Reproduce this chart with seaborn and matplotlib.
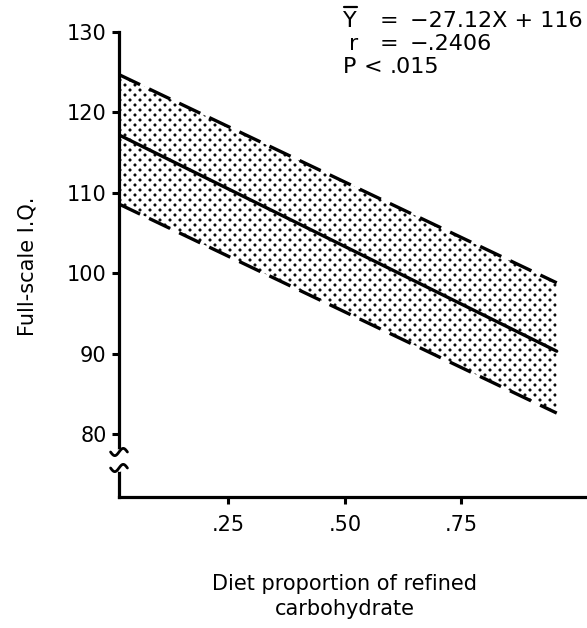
import matplotlib
matplotlib.use("Agg")
import matplotlib.pyplot as plt
import matplotlib.transforms as mtrans
from matplotlib import hatch as mhatch
from matplotlib.path import Path
import numpy as np
import pandas as pd
import seaborn as sns

# ---- data ----
x_ends = [0.015, 0.955]
fit_line = [117.2, 90.3]
upper_band = [124.7, 98.8]
lower_band = [108.6, 82.6]
x_ticks = [0.25, 0.50, 0.75]
x_tick_labels = [".25", ".50", ".75"]
y_ticks = [80, 90, 100, 110, 120, 130]


# stippled (diagonal dot lattice) hatch for the "." pattern
class DotLattice(mhatch.HatchPatternBase):
    NCOL, NROW, RAD = 10, 20, 0.011

    def __init__(self, hatch, density):
        self.active = hatch.count(".") > 0
        circ = Path.unit_circle()
        self.sv = circ.vertices * self.RAD
        self.sc = circ.codes
        pos = []
        if self.active:
            for r in range(self.NROW + 1):
                y = r / self.NROW
                if r % 2 == 0:
                    xs = [c / self.NCOL for c in range(self.NCOL + 1)]
                else:
                    xs = [(c + 0.5) / self.NCOL for c in range(self.NCOL)]
                pos += [(x, y) for x in xs]
        self.pos = pos
        self.num_vertices = len(pos) * len(self.sv)

    def set_vertices_and_codes(self, vertices, codes):
        vparts = [self.sv + np.array(p) for p in self.pos]
        cparts = [self.sc for _ in self.pos]
        np.concatenate(vparts, out=vertices)
        np.concatenate(cparts, out=codes)


mhatch._hatch_types = [t for t in mhatch._hatch_types
                       if t is not mhatch.SmallFilledCircles] + [DotLattice]

sns.set_theme(style="white")
plt.rcParams["font.family"] = ["DejaVu Sans"]
plt.rcParams["text.color"] = "black"
plt.rcParams["hatch.linewidth"] = 0.6

W, H = 587, 628
fig = plt.figure(figsize=(W / 100, H / 100), dpi=100)
ax = fig.add_axes([119 / W, 1 - 497 / H, (W - 119) / W, (497 - 32) / H])

df = pd.DataFrame({"x": x_ends, "fit": fit_line, "up": upper_band, "lo": lower_band})

ax.fill_between(df["x"], df["lo"], df["up"], facecolor="white", edgecolor="black",
                hatch=".", linewidth=0)
LW = 2.4
sns.lineplot(data=df, x="x", y="fit", ax=ax, color="black", linewidth=LW)
sns.lineplot(data=df, x="x", y="up", ax=ax, color="black", linewidth=LW)
ax.lines[-1].set_dashes([7.0, 3.0])
sns.lineplot(data=df, x="x", y="lo", ax=ax, color="black", linewidth=LW)
ax.lines[-1].set_dashes([7.0, 3.0])

ax.set_xlim(0.015, 1.02)
ax.set_ylim(130 - (497 - 32) / 8.04, 130)
ax.set_xticks(x_ticks)
ax.set_xticklabels(x_tick_labels)
ax.set_yticks(y_ticks)
ax.set_xlabel("")
ax.set_ylabel("")

for s in ["top", "right"]:
    ax.spines[s].set_visible(False)
for s in ["left", "bottom"]:
    ax.spines[s].set_linewidth(2.3)
    ax.spines[s].set_color("black")
    ax.spines[s].set_capstyle("projecting")
ax.tick_params(axis="both", which="major", direction="out", length=5, width=2.2,
               color="black", labelsize=15, labelcolor="black",
               left=True, bottom=True)
ax.tick_params(axis="x", pad=8)
ax.tick_params(axis="y", pad=4)

# axis break on y axis
trans = mtrans.blended_transform_factory(ax.transAxes, ax.transData)
yb1 = 130 - (452 - 32) / 8.04
yb2 = 130 - (468 - 32) / 8.04
ax.plot([0, 0], [yb1, yb2], transform=trans, color="white", linewidth=5,
        clip_on=False, zorder=5)
t = np.linspace(-1, 1, 30)
for yb in (yb1, yb2):
    xs = t * 0.018
    ys = yb + 0.45 * np.sin(t * np.pi)
    ax.plot(xs, ys, transform=trans, color="black", linewidth=2,
            clip_on=False, zorder=6)

# labels
fig.text(28 / W, 1 - 266 / H, "Full-scale I.Q.", rotation=90, ha="center",
         va="center", fontsize=15)
fig.text(345 / W, 1 - 584 / H, "Diet proportion of refined", ha="center",
         va="center", fontsize=15)
fig.text(345 / W, 1 - 609 / H, "carbohydrate", ha="center", va="center",
         fontsize=15)

# equation text
fs = 16
def ft(x, y, s):
    fig.text(x / W, 1 - y / H, s, ha="left", va="baseline", fontsize=fs)
ft(343, 27, "Y")
fig.add_artist(plt.Line2D([344 / W, 357 / W], [1 - 7 / H, 1 - 7 / H],
                          color="black", linewidth=1.6))
ft(380, 27, "=")
ft(410, 27, "\u221227.12X + 116")
ft(349, 50, "r")
ft(380, 50, "=")
ft(410, 50, "\u2212.2406")
ft(343, 73, "P")
ft(364, 73, "<")
ft(390, 73, ".015")

fig.savefig("out.png", dpi=100)
